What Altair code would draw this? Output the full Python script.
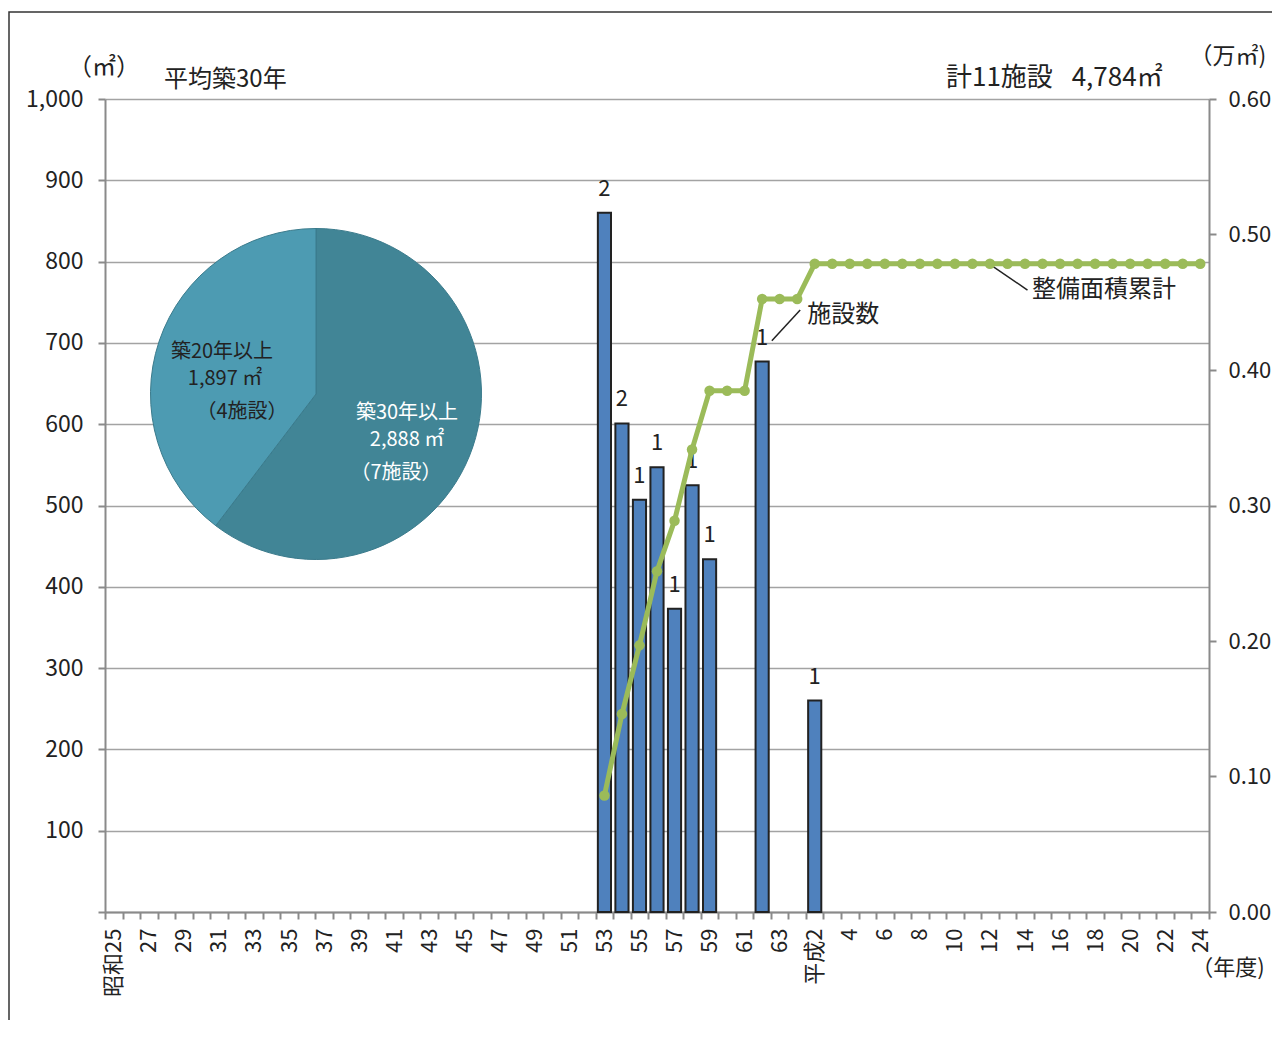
import json
import altair as alt
import pandas as pd

FONT = "Noto Sans CJK JP"
TXT = "#222222"

# ---- categories (fiscal years 1950..2012) ----
years = list(range(1950, 2013))
cats = [("昭和%d" % (y - 1925)) if y <= 1988 else ("平成元" if y == 1989 else "平成%d" % (y - 1988)) for y in years]
tick_labels = ["昭和25", "27", "29", "31", "33", "35", "37", "39", "41", "43", "45", "47", "49",
               "51", "53", "55", "57", "59", "61", "63", "平成2", "4", "6", "8", "10", "12",
               "14", "16", "18", "20", "22", "24"]
label_map = {cats[i]: tick_labels[i // 2] for i in range(0, len(cats), 2)}

# ---- bars: area (m2) and number of facilities ----
bar_cats = ["昭和53", "昭和54", "昭和55", "昭和56", "昭和57", "昭和58", "昭和59", "昭和62", "平成2"]
bar_area = [860, 601, 507, 547, 373, 525, 434, 677, 260]
bar_count = [2, 2, 1, 1, 1, 1, 1, 1, 1]

# ---- cumulative area (万m2), 昭和53..平成24 ----
line_cats = cats[28:]
line_cum = [0.0860, 0.1461, 0.1968, 0.2515, 0.2888, 0.3413, 0.3847, 0.3847, 0.3847,
            0.4524, 0.4524, 0.4524, 0.4784] + [0.4784] * 22

# ---- pie ----
pie_names = ["築30年以上", "築20年以上"]
pie_area = [2888, 1897]
pie_order = [1, 2]
pie_colors = ["#418596", "#4D9BB2"]

bars_df = pd.DataFrame({"cat": bar_cats, "area": bar_area, "count": bar_count})
line_df = pd.DataFrame({"cat": line_cats, "cum": line_cum})
pie_df = pd.DataFrame({"name": pie_names, "area": pie_area, "ord": pie_order})

label_expr = "(" + json.dumps(label_map, ensure_ascii=False) + ")[datum.value] || ''"

x_enc = alt.X(
    "cat:N",
    scale=alt.Scale(domain=cats, paddingInner=0, paddingOuter=0),
    axis=alt.Axis(title=None, labelExpr=label_expr, labelAngle=-90, tickBand="extent",
                  labelPadding=9, labelFontSize=22, grid=False),
)
y_left = alt.Y(
    "area:Q",
    scale=alt.Scale(domain=[0, 1000], nice=False),
    axis=alt.Axis(title=None, values=list(range(0, 1001, 100)),
                  labelExpr="datum.value == 0 ? '' : format(datum.value, ',')",
                  grid=True, labelPadding=15, labelFontSize=23),
)

one = alt.Data(values=[{}])


def txt(t, x, y, size, align="center", color=TXT):
    return alt.Chart(one).mark_text(text=t, fontSize=size, align=align, baseline="middle",
                                    color=color, font=FONT).encode(x=alt.value(x), y=alt.value(y))


frame = alt.Chart(one).mark_rect(fillOpacity=0, stroke="#333333", strokeWidth=1.5).encode(
    x=alt.value(-96), x2=alt.value(1300), y=alt.value(-87), y2=alt.value(1100))

bars = alt.Chart(bars_df).mark_bar(width=alt.RelativeBandSize(0.75), color="#4F81BD",
                                   stroke="#222222", strokeWidth=2).encode(x=x_enc, y=y_left)
counts = alt.Chart(bars_df).mark_text(dy=-24, fontSize=22, color=TXT, baseline="middle",
                                      font=FONT).encode(x=x_enc, y=y_left, text="count:Q")

pie = alt.Chart(pie_df).mark_arc(x=211, y=295, radius=165.5, stroke="#3B7B8C", strokeWidth=1).encode(
    theta=alt.Theta("area:Q"),
    order=alt.Order("ord:Q"),
    color=alt.Color("name:N", scale=alt.Scale(domain=pie_names, range=pie_colors), legend=None),
)

pie_texts = [
    txt("築20年以上", 117, 253, 20),
    txt("1,897 ㎡", 120, 280, 20),
    txt("（4施設）", 137, 313, 20),
    txt("築30年以上", 302, 314, 20, color="white"),
    txt("2,888 ㎡", 302, 341, 20, color="white"),
    txt("（7施設）", 291, 374, 20, color="white"),
]

lead1 = alt.Chart(one).mark_rule(color=TXT, strokeWidth=1.5, xOffset=9.7, x2Offset=3).encode(
    x=alt.datum("昭和62"), x2=alt.datum("平成元"), y=alt.datum(702.7), y2=alt.datum(740.5))
lead2 = alt.Chart(one).mark_rule(color=TXT, strokeWidth=1.5, xOffset=-3, x2Offset=2.5).encode(
    x=alt.datum("平成12"), x2=alt.datum("平成14"), y=alt.datum(799), y2=alt.datum(765))
ann1 = alt.Chart(one).mark_text(text="施設数", fontSize=24, align="left", baseline="middle",
                                color=TXT, font=FONT, dx=10).encode(x=alt.datum("平成元"), y=alt.datum(734))
ann2 = alt.Chart(one).mark_text(text="整備面積累計", fontSize=24, align="left", baseline="middle",
                                color=TXT, font=FONT, dx=7).encode(x=alt.datum("平成14"), y=alt.datum(765))

titles = [
    txt("（㎡）", -1, -31, 24),
    txt("平均築30年", 59, -19, 24, align="left"),
    txt("計11施設\u2002\u00a04,784㎡", 841, -21, 26, align="left"),
    txt("（万㎡)", 1123, -42, 23),
    txt("（年度)", 1123, 869, 22),
]

inner = alt.layer(frame, pie, *pie_texts, bars, counts, lead1, lead2, ann1, ann2, *titles)

line = alt.Chart(line_df).mark_line(
    color="#9BBB59", strokeWidth=5,
    point=alt.OverlayMarkDef(filled=True, size=110, color="#9BBB59"),
).encode(
    x=x_enc,
    y=alt.Y("cum:Q", scale=alt.Scale(domain=[0, 0.6], nice=False),
            axis=alt.Axis(title=None, orient="right", values=[0.0, 0.1, 0.2, 0.3, 0.4, 0.5, 0.6],
                          format=".2f", grid=False, labelPadding=12, labelFontSize=22)),
)

chart = alt.layer(inner, line).resolve_scale(y="independent").properties(
    width=1104, height=813,
    padding={"left": 97, "top": 91, "right": 63, "bottom": 108},
    autosize=alt.AutoSizeParams(type="none"),
).configure_axis(
    labelFont=FONT, labelColor=TXT, domainColor="#8a8a8a", domainWidth=2,
    tickColor="#8a8a8a", tickWidth=2, tickSize=7, gridColor="#a3a3a3", gridWidth=1.5,
).configure_view(stroke=None).configure_text(font=FONT)

chart.save("out.html", embed_options={"renderer": "svg", "actions": False})
